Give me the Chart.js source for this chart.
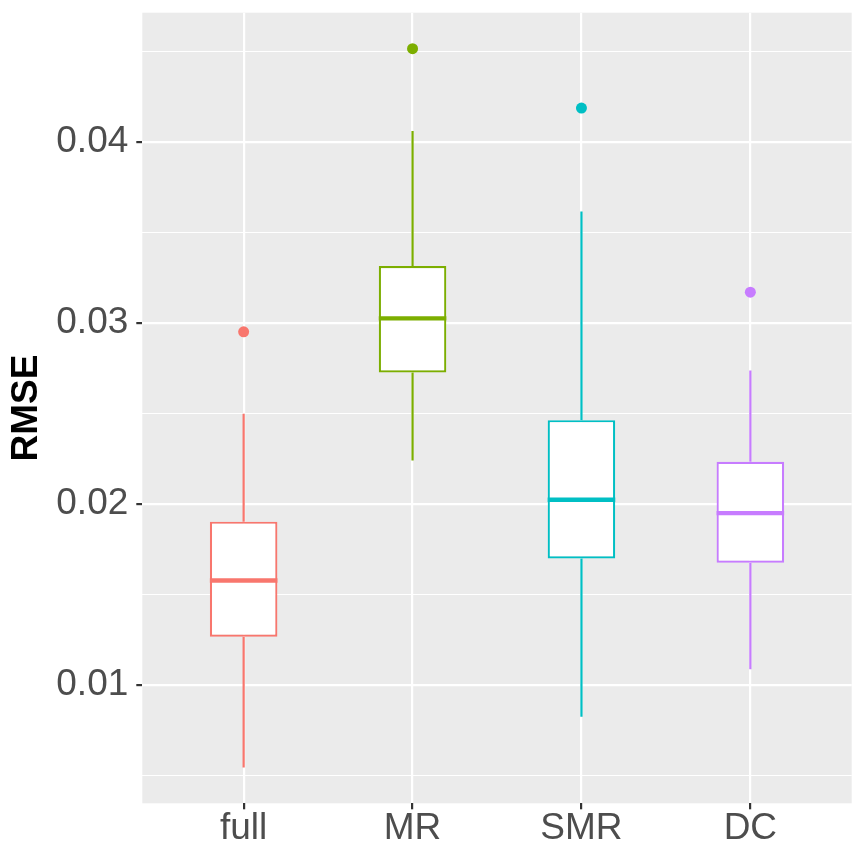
<!DOCTYPE html>
<html><head><meta charset="utf-8">
<script src="https://cdn.jsdelivr.net/npm/chart.js@4.4.1/dist/chart.umd.min.js"></script>
<style>html,body{margin:0;padding:0;background:#fff}canvas{display:block}</style>
</head><body>
<canvas id="c" width="865" height="865"></canvas>
<script>
const categories = ['full', 'MR', 'SMR', 'DC'];
const colors = ['#F8766D', '#7CAE00', '#00BFC4', '#C77CFF'];
const lowerWhisker = [0.00543, 0.02239, 0.00823, 0.01085];
const q1 = [0.01265, 0.02725, 0.01698, 0.01674];
const median = [0.01576, 0.03024, 0.02022, 0.01948];
const q3 = [0.01901, 0.03313, 0.02462, 0.02232];
const upperWhisker = [0.02497, 0.04059, 0.03615, 0.02736];
const outliers = [0.02950, 0.04514, 0.04186, 0.03169];
const yTickValues = [0.01, 0.02, 0.03, 0.04];
const yTickLabels = ['0.01', '0.02', '0.03', '0.04'];

const BOX_WIDTH = 0.4;
const FONT = '"Liberation Sans", Arial, Helvetica, sans-serif';

function majorIndex(v) {
  for (let i = 0; i < yTickValues.length; i++) if (Math.abs(yTickValues[i] - v) < 1e-9) return i;
  return -1;
}

const datasets = [];
categories.forEach((c, i) => {
  const x = i + 1;
  datasets.push({
    type: 'line', order: 3,
    data: [{x: x, y: upperWhisker[i]}, {x: x, y: q3[i]}, {x: x, y: null}, {x: x, y: q1[i]}, {x: x, y: lowerWhisker[i]}],
    borderColor: colors[i], borderWidth: 2.2, pointRadius: 0, spanGaps: false, fill: false
  });
});
datasets.push({
  type: 'bar', order: 2,
  data: categories.map((c, i) => ({x: i + 1, y: [q1[i], q3[i]]})),
  backgroundColor: '#ffffff', borderColor: colors, borderWidth: 2.2, borderSkipped: false,
  barPercentage: BOX_WIDTH, categoryPercentage: 1, grouped: false
});
categories.forEach((c, i) => {
  const x = i + 1;
  datasets.push({
    type: 'line', order: 1,
    data: [{x: x - BOX_WIDTH / 2, y: median[i]}, {x: x + BOX_WIDTH / 2, y: median[i]}],
    borderColor: colors[i], borderWidth: 4.4, pointRadius: 0, fill: false
  });
});
datasets.push({
  type: 'scatter', order: 0,
  data: categories.map((c, i) => ({x: i + 1, y: outliers[i]})),
  pointBackgroundColor: colors, pointBorderWidth: 0, pointRadius: 5.5, showLine: false
});

const panelBg = {
  id: 'panelBg',
  beforeDraw(chart) {
    const {ctx, chartArea: a} = chart;
    ctx.save();
    ctx.fillStyle = '#ffffff';
    ctx.fillRect(0, 0, chart.width, chart.height);
    ctx.fillStyle = '#EBEBEB';
    ctx.fillRect(a.left, a.top, a.right - a.left, a.bottom - a.top);
    ctx.restore();
  }
};

function noPad(s) { s.paddingTop = 0; s.paddingBottom = 0; s.paddingLeft = 0; s.paddingRight = 0; }

new Chart(document.getElementById('c'), {
  type: 'bar',
  data: {datasets: datasets},
  plugins: [panelBg],
  options: {
    responsive: false, animation: false, devicePixelRatio: 1,
    layout: {padding: {left: 0, top: 12.7, right: 13.3, bottom: 0}},
    plugins: {legend: {display: false}, tooltip: {enabled: false}},
    scales: {
      x: {
        type: 'linear', min: 0.4, max: 4.6, offset: false,
        afterFit(s) { s.height = 61.7; noPad(s); },
        border: {display: false},
        grid: {color: '#ffffff', lineWidth: 2.2, tickColor: '#333333', tickWidth: 2.2, tickLength: 6, offset: false, drawOnChartArea: true},
        ticks: {
          stepSize: 1, includeBounds: false, autoSkip: false, maxRotation: 0, padding: 1,
          color: '#4D4D4D', font: {family: FONT, size: 37, lineHeight: 1},
          callback: v => categories[Math.round(v) - 1] || ''
        }
      },
      y: {
        type: 'linear', min: 0.00345, max: 0.04713,
        afterFit(s) { s.width = 142.3; noPad(s); },
        border: {display: false},
        grid: {
          color: '#ffffff',
          lineWidth: ctx => (ctx.tick && majorIndex(ctx.tick.value) >= 0) ? 2.2 : 1.1,
          tickColor: ctx => (ctx.tick && majorIndex(ctx.tick.value) >= 0) ? '#333333' : 'rgba(0,0,0,0)',
          tickWidth: 2.2, tickLength: 6
        },
        ticks: {
          stepSize: 0.005, includeBounds: false, autoSkip: false, padding: 8,
          color: '#4D4D4D', font: {family: FONT, size: 37, lineHeight: 1},
          callback: v => { const k = majorIndex(v); return k >= 0 ? yTickLabels[k] : ''; }
        },
        title: {
          display: true, text: 'RMSE', color: '#000000',
          font: {family: FONT, size: 37, weight: 'bold', lineHeight: 1.2},
          padding: {top: 5, bottom: 0}
        }
      }
    }
  }
});
</script>
</body></html>
